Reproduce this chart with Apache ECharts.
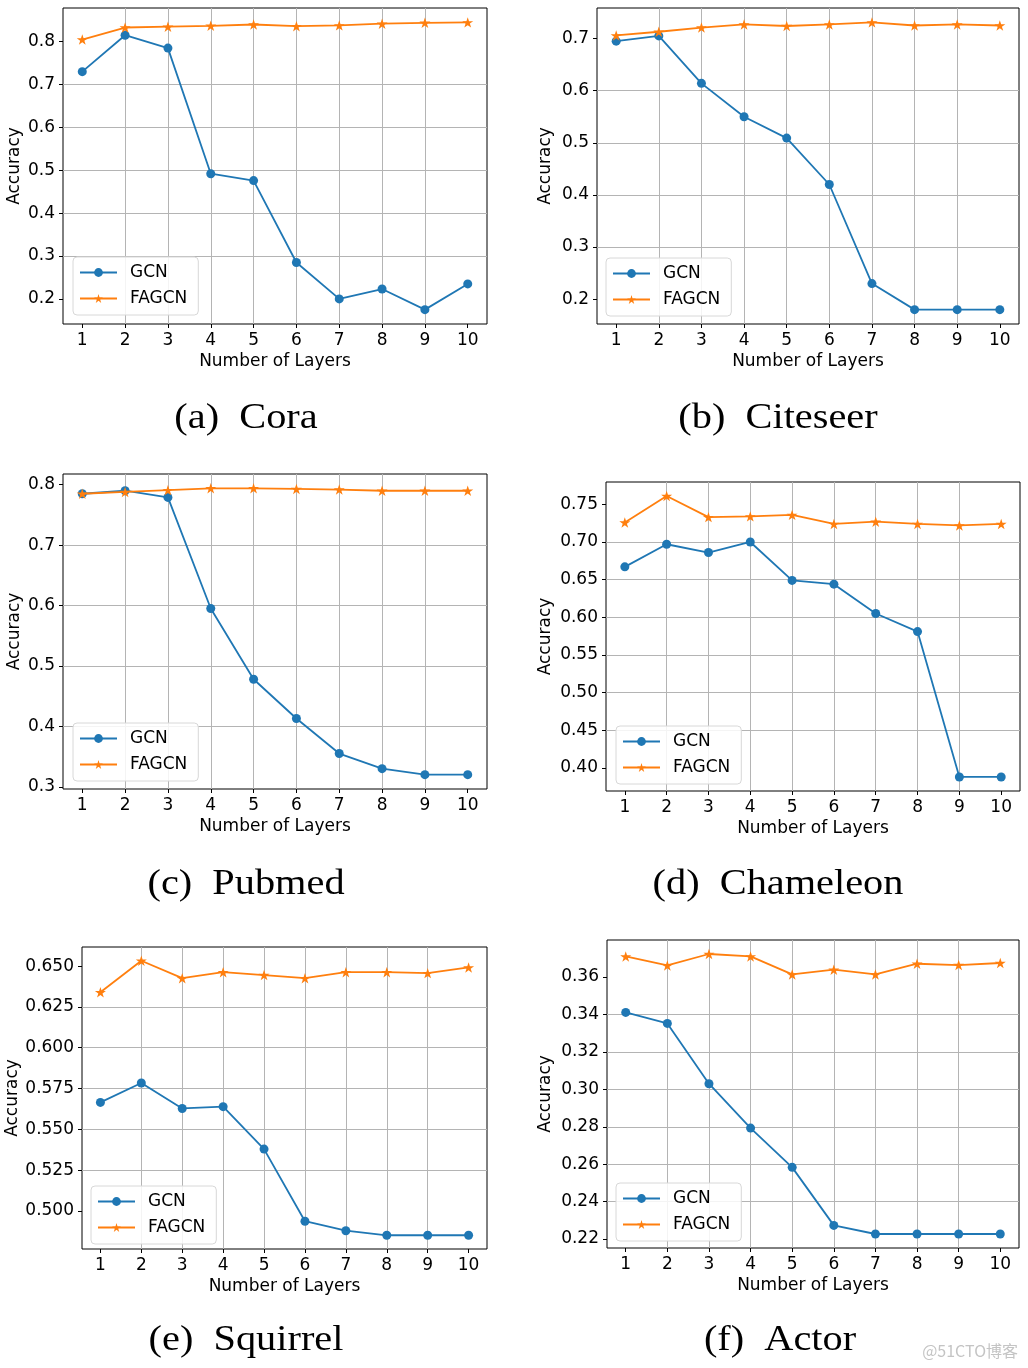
<!DOCTYPE html>
<html>
<head>
<meta charset="utf-8">
<script src="https://cdn.jsdelivr.net/npm/echarts@6/dist/echarts.min.js"></script>
<style>
  html, body { margin: 0; padding: 0; background: #fff; }
  #chart { width: 1028px; height: 1368px; }
</style>
</head>
<body>
<div id="chart"></div>
<script>
// ---------------- data ----------------
const layers = [1, 2, 3, 4, 5, 6, 7, 8, 9, 10];
const seriesNames = ['GCN', 'FAGCN'];
const xLabel = 'Number of Layers';
const yLabel = 'Accuracy';

const coraGCN   = [0.730, 0.815, 0.785, 0.492, 0.476, 0.285, 0.200, 0.223, 0.175, 0.235];
const coraFAGCN = [0.805, 0.833, 0.835, 0.837, 0.840, 0.836, 0.838, 0.842, 0.844, 0.845];

const citeseerGCN   = [0.695, 0.705, 0.614, 0.550, 0.509, 0.420, 0.230, 0.180, 0.180, 0.180];
const citeseerFAGCN = [0.706, 0.713, 0.721, 0.727, 0.724, 0.727, 0.731, 0.725, 0.727, 0.725];

const pubmedGCN   = [0.785, 0.790, 0.779, 0.595, 0.478, 0.413, 0.355, 0.330, 0.320, 0.320];
const pubmedFAGCN = [0.785, 0.788, 0.791, 0.794, 0.794, 0.793, 0.792, 0.790, 0.790, 0.790];

const chameleonGCN   = [0.667, 0.697, 0.686, 0.700, 0.649, 0.644, 0.605, 0.581, 0.388, 0.388];
const chameleonFAGCN = [0.726, 0.761, 0.733, 0.734, 0.736, 0.724, 0.727, 0.724, 0.722, 0.724];

const squirrelGCN   = [0.5665, 0.5784, 0.5628, 0.5639, 0.5379, 0.4937, 0.4879, 0.4851, 0.4851, 0.4851];
const squirrelFAGCN = [0.6340, 0.6533, 0.6426, 0.6463, 0.6445, 0.6426, 0.6463, 0.6463, 0.6457, 0.6492];

const actorGCN   = [0.3411, 0.3352, 0.3030, 0.2793, 0.2583, 0.2273, 0.2227, 0.2227, 0.2227, 0.2227];
const actorFAGCN = [0.3710, 0.3662, 0.3723, 0.3710, 0.3614, 0.3639, 0.3614, 0.3671, 0.3664, 0.3675];

const coraTicks      = [0.2, 0.3, 0.4, 0.5, 0.6, 0.7, 0.8];
const citeseerTicks  = [0.2, 0.3, 0.4, 0.5, 0.6, 0.7];
const pubmedTicks    = [0.3, 0.4, 0.5, 0.6, 0.7, 0.8];
const chameleonTicks = [0.40, 0.45, 0.50, 0.55, 0.60, 0.65, 0.70, 0.75];
const squirrelTicks  = [0.500, 0.525, 0.550, 0.575, 0.600, 0.625, 0.650];
const actorTicks     = [0.22, 0.24, 0.26, 0.28, 0.30, 0.32, 0.34, 0.36];

const captions = ['(a)  Cora', '(b)  Citeseer', '(c)  Pubmed', '(d)  Chameleon', '(e)  Squirrel', '(f)  Actor'];
const watermark = '@51CTO博客';

// ---------------- layout / style ----------------
const BLUE = '#1f77b4', ORANGE = '#ff7f0e';
const TICK_FONT = 'DejaVu Sans';
const FS = 17;
const STAR = 'path://M50,0 L61.23,34.55 L97.55,34.55 L68.17,55.9 L79.39,90.45 L50,69.1 L20.61,90.45 L31.83,55.9 L2.45,34.55 L38.77,34.55 Z';

const panels = [
  { g: [63, 8, 424, 316],   gcn: coraGCN,      fa: coraFAGCN,      ticks: coraTicks,      dec: 1, nameGap: 40, leg: [73, 257],   cap: [246, 419] },
  { g: [597, 8, 422, 316],  gcn: citeseerGCN,  fa: citeseerFAGCN,  ticks: citeseerTicks,  dec: 1, nameGap: 43, leg: [606, 258],  cap: [778, 419] },
  { g: [63, 474, 424, 315], gcn: pubmedGCN,    fa: pubmedFAGCN,    ticks: pubmedTicks,    dec: 1, nameGap: 40, leg: [73, 723],   cap: [246, 885] },
  { g: [606, 482, 414, 309],gcn: chameleonGCN, fa: chameleonFAGCN, ticks: chameleonTicks, dec: 2, nameGap: 52, leg: [616, 726],  cap: [778, 885] },
  { g: [82, 947, 405, 302], gcn: squirrelGCN,  fa: squirrelFAGCN,  ticks: squirrelTicks,  dec: 3, nameGap: 60, leg: [91, 1186],  cap: [246, 1341] },
  { g: [607, 940, 412, 308],gcn: actorGCN,     fa: actorFAGCN,     ticks: actorTicks,     dec: 2, nameGap: 53, leg: [616, 1183], cap: [780, 1341] }
];

const option = {
  animation: false,
  backgroundColor: '#fff',
  grid: [], xAxis: [], yAxis: [], series: [], legend: [], graphic: []
};

const xMin = layers[0] - 0.05 * (layers[layers.length - 1] - layers[0]);
const xMax = layers[layers.length - 1] + 0.05 * (layers[layers.length - 1] - layers[0]);

panels.forEach((p, i) => {
  const all = p.gcn.concat(p.fa);
  const lo = Math.min.apply(null, all), hi = Math.max.apply(null, all);
  const pad = 0.05 * (hi - lo);
  const step = +(p.ticks[1] - p.ticks[0]).toFixed(4);

  option.grid.push({
    left: p.g[0], top: p.g[1], width: p.g[2], height: p.g[3],
    show: true, borderColor: '#000', borderWidth: 1, backgroundColor: '#fff', containLabel: false
  });
  option.xAxis.push({
    type: 'value', gridIndex: i, min: xMin, max: xMax, minInterval: 1, maxInterval: 1,
    name: xLabel, nameLocation: 'middle', nameGap: 29,
    nameTextStyle: { fontFamily: TICK_FONT, fontSize: FS, color: '#000' },
    axisLine: { show: false },
    axisTick: { show: true, length: 4, customValues: layers, lineStyle: { color: '#000', width: 1 } },
    axisLabel: { customValues: layers, margin: 8, fontFamily: TICK_FONT, fontSize: FS, color: '#000' },
    splitLine: { show: true, showMinLine: false, showMaxLine: false, lineStyle: { color: '#b4b4b4', width: 1 } }
  });
  option.yAxis.push({
    type: 'value', gridIndex: i, min: lo - pad, max: hi + pad, minInterval: step, maxInterval: step,
    name: yLabel, nameLocation: 'middle', nameGap: p.nameGap,
    nameTextStyle: { fontFamily: TICK_FONT, fontSize: FS, color: '#000' },
    axisLine: { show: false },
    axisTick: { show: true, length: 4, customValues: p.ticks, lineStyle: { color: '#000', width: 1 } },
    axisLabel: { customValues: p.ticks, margin: 8, fontFamily: TICK_FONT, fontSize: FS, color: '#000',
                 formatter: v => Number(v).toFixed(p.dec) },
    splitLine: { show: true, showMinLine: false, showMaxLine: false, lineStyle: { color: '#b4b4b4', width: 1 } }
  });
  option.series.push({
    name: seriesNames[0], type: 'line', xAxisIndex: i, yAxisIndex: i,
    data: layers.map((x, k) => [x, p.gcn[k]]),
    symbol: 'circle', symbolSize: 9,
    lineStyle: { color: BLUE, width: 1.8 }, itemStyle: { color: BLUE }, z: 3
  });
  option.series.push({
    name: seriesNames[1], type: 'line', xAxisIndex: i, yAxisIndex: i,
    data: layers.map((x, k) => [x, p.fa[k]]),
    symbol: STAR, symbolSize: 11, symbolKeepAspect: true,
    lineStyle: { color: ORANGE, width: 1.8 }, itemStyle: { color: ORANGE }, z: 4
  });
  option.legend.push({
    left: p.leg[0], top: p.leg[1], orient: 'vertical',
    data: seriesNames,
    itemWidth: 37, itemHeight: 11, itemGap: 9,
    padding: [7, 11, 8, 6],
    backgroundColor: 'rgba(255,255,255,0.85)', borderColor: '#d8d8d8', borderWidth: 1, borderRadius: 4,
    textStyle: { fontFamily: TICK_FONT, fontSize: FS, color: '#000', padding: [0, 0, 0, 8], lineHeight: 17 },
    selectedMode: false
  });
  option.graphic.push({
    type: 'text', x: p.cap[0], y: p.cap[1], scaleX: 1.12,
    style: { text: captions[i], fontFamily: 'Liberation Serif', fontSize: 36, fill: '#000',
             align: 'center', verticalAlign: 'middle' }
  });
});

option.graphic.push({
  type: 'text', x: 1018, y: 1351,
  style: { text: watermark, fontFamily: 'Noto Sans CJK SC', fontSize: 16, fill: '#c4c4c4',
           align: 'right', verticalAlign: 'middle' }
});

const chart = echarts.init(document.getElementById('chart'), null, { renderer: 'canvas' });
chart.setOption(option);
</script>
</body>
</html>
